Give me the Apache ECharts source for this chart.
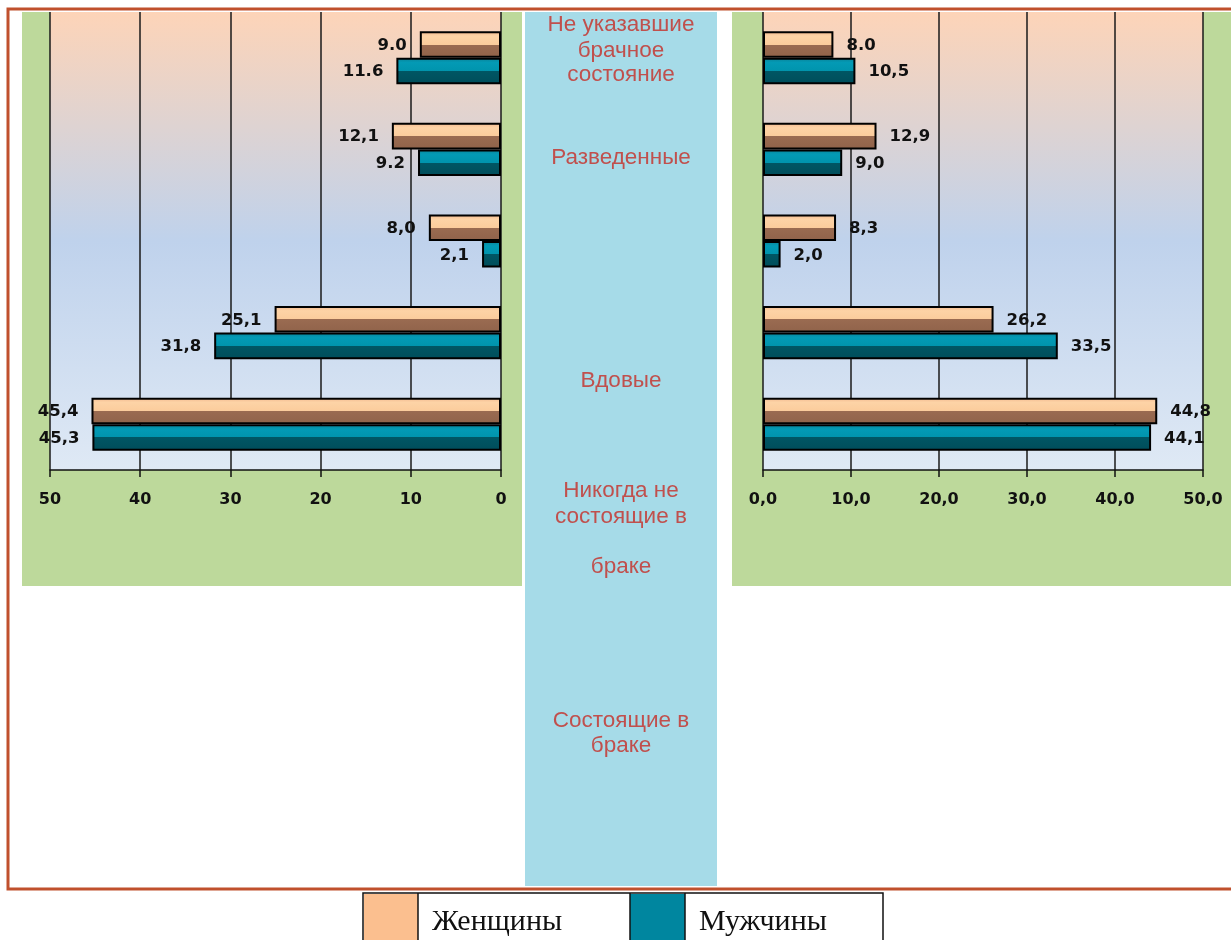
<!DOCTYPE html>
<html>
<head>
<meta charset="utf-8">
<script src="https://cdn.jsdelivr.net/npm/echarts@6/dist/echarts.min.js"></script>
<style>
  html, body { margin: 0; padding: 0; background: #fff; }
  #main { width: 1231px; height: 940px; }
</style>
</head>
<body>
<div id="main"></div>
<script>
// категории сверху вниз
var categories = ['Не указавшие брачное состояние', 'Разведенные', 'Вдовые', 'Никогда не состоящие в браке', 'Состоящие в браке'];

// левая диаграмма
var leftWomen = [9.0, 12.1, 8.0, 25.1, 45.4];
var leftMen = [11.6, 9.2, 2.1, 31.8, 45.3];
var leftWomenLabels = ['9.0', '12,1', '8,0', '25,1', '45,4'];
var leftMenLabels = ['11.6', '9.2', '2,1', '31,8', '45,3'];

// правая диаграмма
var rightWomen = [8.0, 12.9, 8.3, 26.2, 44.8];
var rightMen = [10.5, 9.0, 2.0, 33.5, 44.1];
var rightWomenLabels = ['8.0', '12,9', '8,3', '26,2', '44,8'];
var rightMenLabels = ['10,5', '9,0', '2,0', '33,5', '44,1'];

// подписи в средней колонке (как на картинке)
var middleLines = [
    ['Не указавшие', 25], ['брачное', 51], ['состояние', 75],
    ['Разведенные', 158],
    ['Вдовые', 381],
    ['Никогда не', 491], ['состоящие в', 517], ['браке', 567],
    ['Состоящие в', 721], ['браке', 746]
];

var legendNames = ['Женщины', 'Мужчины'];

var womenFill = {
    type: 'linear', x: 0, y: 0, x2: 0, y2: 1,
    colorStops: [
        { offset: 0, color: '#f2b88f' },
        { offset: 0.18, color: '#fdd3a6' },
        { offset: 0.5, color: '#fbcc9c' },
        { offset: 0.5, color: '#9a6b51' },
        { offset: 1, color: '#90634a' }
    ]
};
var menFill = {
    type: 'linear', x: 0, y: 0, x2: 0, y2: 1,
    colorStops: [
        { offset: 0, color: '#0b8196' },
        { offset: 0.18, color: '#039ab5' },
        { offset: 0.5, color: '#0094ad' },
        { offset: 0.5, color: '#005664' },
        { offset: 1, color: '#004d5a' }
    ]
};
var plotBg = {
    type: 'linear', x: 0, y: 0, x2: 0, y2: 1,
    colorStops: [
        { offset: 0, color: '#fdd4b8' },
        { offset: 0.5, color: '#bfd2ec' },
        { offset: 1, color: '#dfe9f5' }
    ]
};

var labelFont = { fontFamily: 'DejaVu Sans', fontWeight: 'bold', fontSize: 16.5, color: '#111' };

function barSeries(name, data, labels, axisIdx, fill, pos) {
    return {
        name: name,
        type: 'bar',
        xAxisIndex: axisIdx,
        yAxisIndex: axisIdx,
        data: data,
        barGap: '0%',
        barCategoryGap: '42%',
        itemStyle: { color: fill, borderColor: '#000', borderWidth: 2 },
        label: Object.assign({
            show: true,
            position: pos,
            distance: 13,
            offset: [0, 1],
            formatter: function (p) { return labels[p.dataIndex]; }
        }, labelFont),
        z: 3
    };
}

function valueAxis(gridIdx, inverse, fmt) {
    return {
        type: 'value',
        gridIndex: gridIdx,
        inverse: inverse,
        min: 0, max: 50, interval: 10,
        axisLine: { show: true, lineStyle: { color: '#111', width: 1.5 } },
        axisTick: { show: true, length: 7, lineStyle: { color: '#111', width: 1.5 } },
        splitLine: { show: true, lineStyle: { color: '#1a1a1a', width: 1.5 } },
        axisLabel: Object.assign({ margin: 22, formatter: fmt }, labelFont, { fontSize: 16 })
    };
}

var graphics = [
    // зелёные подложки
    { type: 'rect', shape: { x: 22, y: 12, width: 500, height: 574 }, style: { fill: '#bdd99b' }, z: -10 },
    { type: 'rect', shape: { x: 732, y: 12, width: 510, height: 574 }, style: { fill: '#bdd99b' }, z: -10 },
    // средняя колонка
    { type: 'rect', shape: { x: 525, y: 12, width: 192, height: 874 }, style: { fill: '#a6dbe8' }, z: -10 },
    // рамка
    { type: 'rect', shape: { x: 8, y: 9, width: 1240, height: 880 }, style: { fill: null, stroke: '#c0502d', lineWidth: 3 }, z: -5 },
    // легенда
    { type: 'rect', shape: { x: 364, y: 894, width: 54, height: 60 }, style: { fill: '#fbbf8f' }, z: 10 },
    { type: 'rect', shape: { x: 630, y: 894, width: 55, height: 60 }, style: { fill: '#00869f' }, z: 10 },
    { type: 'rect', shape: { x: 363, y: 893, width: 520, height: 60 }, style: { fill: null, stroke: '#111', lineWidth: 1.5 }, z: 11 },
    { type: 'line', shape: { x1: 418, y1: 893, x2: 418, y2: 940 }, style: { stroke: '#111', lineWidth: 1.5 }, z: 11 },
    { type: 'line', shape: { x1: 630, y1: 893, x2: 630, y2: 940 }, style: { stroke: '#111', lineWidth: 1.5 }, z: 11 },
    { type: 'line', shape: { x1: 685, y1: 893, x2: 685, y2: 940 }, style: { stroke: '#111', lineWidth: 1.5 }, z: 11 },
    { type: 'text', x: 432, y: 922, style: { text: legendNames[0], font: '30px "Liberation Serif"', fill: '#111', verticalAlign: 'middle' }, z: 11 },
    { type: 'text', x: 699, y: 922, style: { text: legendNames[1], font: '30px "Liberation Serif"', fill: '#111', verticalAlign: 'middle' }, z: 11 }
];
middleLines.forEach(function (m) {
    graphics.push({
        type: 'text', x: 621, y: m[1],
        style: { text: m[0], font: '22.5px "Liberation Sans"', fill: '#c0504d', align: 'center', verticalAlign: 'middle' },
        z: 5
    });
});

var chart = echarts.init(document.getElementById('main'));
chart.setOption({
    backgroundColor: '#fff',
    animation: false,
    grid: [
        { left: 50, width: 451, top: 12, height: 458, show: true, backgroundColor: plotBg, borderWidth: 0 },
        { left: 763, width: 440, top: 12, height: 458, show: true, backgroundColor: plotBg, borderWidth: 0 }
    ],
    xAxis: [
        valueAxis(0, true, function (v) { return String(v); }),
        valueAxis(1, false, function (v) { return v.toFixed(1).replace('.', ','); })
    ],
    yAxis: [
        { type: 'category', gridIndex: 0, data: categories, inverse: true, show: false },
        { type: 'category', gridIndex: 1, data: categories, inverse: true, show: false }
    ],
    series: [
        barSeries(legendNames[0], leftWomen, leftWomenLabels, 0, womenFill, 'left'),
        barSeries(legendNames[1], leftMen, leftMenLabels, 0, menFill, 'left'),
        barSeries(legendNames[0], rightWomen, rightWomenLabels, 1, womenFill, 'right'),
        barSeries(legendNames[1], rightMen, rightMenLabels, 1, menFill, 'right')
    ],
    graphic: graphics
});
</script>
</body>
</html>
